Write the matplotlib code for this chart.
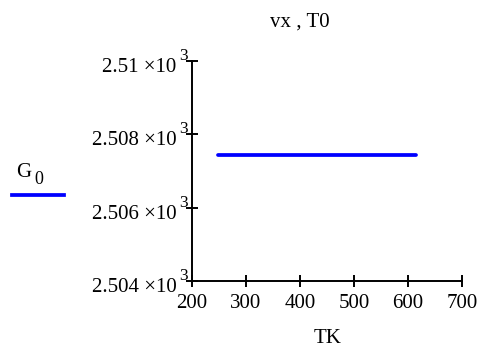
import numpy as np
import matplotlib.pyplot as plt
import matplotlib.transforms as mtransforms
from matplotlib.lines import Line2D

plt.rcParams['font.family'] = 'Liberation Serif'

# data
TK = [248, 615]
G0 = [2507.44, 2507.44]

x_ticks = [200, 300, 400, 500, 600, 700]
y_ticks = [2504, 2506, 2508, 2510]
y_tick_labels = ['2.504 \u00d710', '2.506 \u00d710', '2.508 \u00d710', '2.51 \u00d710']

fig = plt.figure(figsize=(4.83, 3.47), dpi=100)
ax = fig.add_axes([0.3975, 0.1902, 0.5590, 0.6340])

ax.plot(TK, G0, color='#0000ff', lw=2.7, solid_capstyle='round')

ax.set_xlim(200, 700)
ax.set_ylim(2504, 2510)
ax.set_xticks(x_ticks)
ax.set_xticklabels([str(v) for v in x_ticks])
ax.set_yticks(y_ticks)
ax.set_yticklabels(y_tick_labels)

for s in ['top', 'right']:
    ax.spines[s].set_visible(False)
for s in ['left', 'bottom']:
    ax.spines[s].set_linewidth(1.4)
ax.tick_params(direction='inout', length=8, width=1.4, labelsize=15)
ax.tick_params(axis='x', pad=5)
ax.tick_params(axis='y', pad=7)

# main part of y labels sits a little under the tick, exponent above it
down = mtransforms.ScaledTranslation(0, -4 / 100, fig.dpi_scale_trans)
up = mtransforms.ScaledTranslation(0, 1 / 100, fig.dpi_scale_trans)
for lab in ax.get_yticklabels():
    lab.set_transform(lab.get_transform() + down)
for v in y_ticks:
    ax.text(-0.031, v, '3', transform=ax.get_yaxis_transform() + up, ha='center',
            va='baseline', fontsize=12.5)

fig.text(0.621, 0.937, 'vx , T0', ha='center', va='center', fontsize=15)
fig.text(0.679, 0.025, 'TK', ha='center', va='center', fontsize=15)

# legend like Mathcad: label above a short line
fig.text(0.033, 0.503, 'G', ha='left', va='center', fontsize=15)
fig.text(0.072, 0.482, '0', ha='left', va='center', fontsize=13)
fig.add_artist(Line2D([0.025, 0.132], [0.438, 0.438], transform=fig.transFigure,
                      color='#0000ff', lw=2.7))

fig.savefig('out.png', dpi=100)
